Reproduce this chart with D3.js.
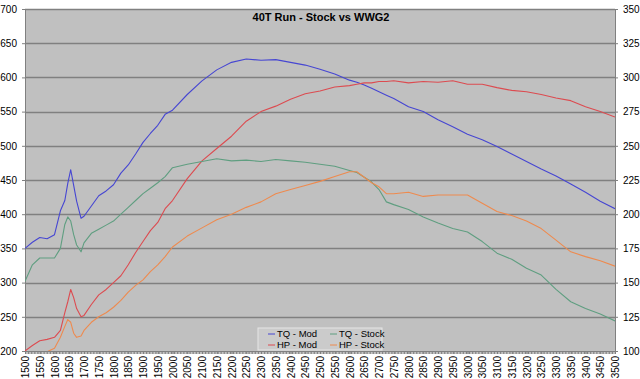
<!DOCTYPE html>
<html>
<head>
<meta charset="utf-8">
<script src="https://cdn.jsdelivr.net/npm/d3@7"></script>
<style>
  body { margin: 0; background: #fff; }
  svg { display: block; font-family: "Liberation Sans", Arial, sans-serif; }
  .axis text { font-size: 10px; fill: #000; }
  .axis line, .axis path { stroke: #808080; }
</style>
</head>
<body>
<div id="chart"></div>
<script>
const title = "40T Run - Stock vs WWG2";

const rpm = [1500, 1525, 1550, 1575, 1600, 1620, 1635, 1645, 1655, 1665, 1675, 1690, 1700,
  1725, 1750, 1775, 1800, 1825, 1850, 1875, 1900, 1925, 1950, 1975, 2000, 2050, 2100,
  2150, 2200, 2250, 2300, 2350, 2400, 2450, 2500, 2550, 2600, 2625, 2650, 2675, 2700,
  2725, 2750, 2800, 2850, 2900, 2950, 3000, 3050, 3100, 3150, 3200, 3250, 3300, 3350,
  3400, 3450, 3500];

// torque, left axis
const tqMod = [350, 359, 366, 364, 370, 405, 420, 445, 465, 442, 419, 394, 397,
  412, 427, 434, 443, 460, 472, 488, 505, 518, 530, 546, 552, 575, 595,
  611, 622, 627, 625, 626, 622, 618, 612, 605, 596, 593, 589, 584, 579,
  574, 569, 557, 550, 538, 528, 517, 509, 499, 488, 477, 466, 456, 444,
  432, 419, 408];

const tqStock = [302, 326, 336, 336, 336, 350, 385, 396, 390, 370, 355, 345, 358,
  372, 378, 384, 390, 400, 410, 420, 430, 438, 446, 455, 468, 473, 477,
  481, 478, 479, 477, 480, 478, 476, 473, 470, 464, 461, 454, 447, 436,
  418, 414, 407, 396, 387, 379, 374, 360, 343, 334, 321, 311, 290, 272,
  262, 254, 244];

// horsepower, right axis
const hpMod = [100, 104, 107.5, 108.5, 110, 115, 128, 136, 145, 139, 131, 125, 126,
  134, 141, 145, 150, 155, 163, 172, 180, 188, 194, 204, 210, 226, 239,
  248, 257, 268, 275, 279, 284, 288, 290, 293, 294, 295, 296, 296, 297,
  297, 297.5, 296, 297, 296.5, 297.5, 295, 295, 292.5, 290.5, 289.5, 287.5, 285, 283,
  278.5, 275, 271];

const hpStock = [92, 95, 97, 99.5, 102, 110, 118, 123, 121, 113, 110, 111, 115,
  121, 125, 128, 132, 137, 143, 148, 152, 158, 163, 169, 176, 184, 190,
  196, 200, 205, 209, 215, 218, 221, 224, 227.5, 231, 231, 227, 223, 220,
  215, 215, 216, 213, 214, 214, 214, 208, 202, 199, 195, 189.5, 181, 172.5,
  169, 166, 162];

const leftTicks = d3.range(200, 701, 50);
const rightTicks = d3.range(100, 351, 25);
const rpmTicks = d3.range(1500, 3501, 50);

const width = 640;
const height = 379;
const margin = { top: 9, right: 25, bottom: 28, left: 25 };

const series = [
  { name: "TQ - Mod", values: tqMod, axis: "left", color: "#4646d2" },
  { name: "HP - Mod", values: hpMod, axis: "right", color: "#dc4b50" },
  { name: "TQ - Stock", values: tqStock, axis: "left", color: "#5f9e80" },
  { name: "HP - Stock", values: hpStock, axis: "right", color: "#ee8a4e" },
];

const x = d3.scaleLinear().domain([1500, 3500]).range([margin.left, width - margin.right]);
const yLeft = d3.scaleLinear().domain([200, 700]).range([height - margin.bottom, margin.top]);
const yRight = d3.scaleLinear().domain([100, 350]).range([height - margin.bottom, margin.top]);

const svg = d3.select("#chart").append("svg")
  .attr("width", width)
  .attr("height", height);

svg.append("defs").append("clipPath").attr("id", "plot-clip")
  .append("rect")
  .attr("x", margin.left)
  .attr("y", margin.top)
  .attr("width", width - margin.left - margin.right)
  .attr("height", height - margin.top - margin.bottom);

// plot background
svg.append("rect")
  .attr("x", margin.left)
  .attr("y", margin.top)
  .attr("width", width - margin.left - margin.right)
  .attr("height", height - margin.top - margin.bottom)
  .attr("fill", "#c0c0c0");

// gridlines
svg.append("g").attr("class", "grid")
  .selectAll("line")
  .data(leftTicks.slice(1))
  .join("line")
  .attr("x1", margin.left)
  .attr("x2", width - margin.right)
  .attr("y1", (d) => Math.round(yLeft(d)) + 0.5)
  .attr("y2", (d) => Math.round(yLeft(d)) + 0.5)
  .attr("stroke", "#808080")
  .attr("stroke-width", 1.3);

// axes
svg.append("g").attr("class", "axis axis--left")
  .attr("transform", `translate(${margin.left},0)`)
  .call(d3.axisLeft(yLeft).tickValues(leftTicks).tickSize(3).tickPadding(5));

svg.append("g").attr("class", "axis axis--right")
  .attr("transform", `translate(${width - margin.right},0)`)
  .call(d3.axisRight(yRight).tickValues(rightTicks).tickSize(3).tickPadding(5));

svg.append("g").attr("class", "axis axis--minor")
  .attr("transform", `translate(0,${height - margin.bottom})`)
  .call(d3.axisBottom(x).tickValues(d3.range(1500, 3501, 5)).tickSize(3).tickFormat(""))
  .call((g) => g.selectAll(".tick line").attr("stroke", "#9a9a9a"));

svg.append("g").attr("class", "axis axis--bottom")
  .attr("transform", `translate(0,${height - margin.bottom})`)
  .call(d3.axisBottom(x).tickValues(rpmTicks).tickSize(3).tickFormat(d3.format("d")))
  .call((g) => g.select(".domain").remove())
  .call((g) => g.selectAll(".tick text")
    .attr("transform", "rotate(-90)")
    .attr("text-anchor", "end")
    .attr("x", -5)
    .attr("y", 0)
    .attr("dy", "0.35em"));

// lines
const gLines = svg.append("g").attr("clip-path", "url(#plot-clip)");

gLines.selectAll("path")
  .data(series)
  .join("path")
  .attr("fill", "none")
  .attr("stroke", (d) => d.color)
  .attr("stroke-width", 1.1)
  .attr("stroke-linejoin", "round")
  .attr("d", (s) => {
    const y = s.axis === "left" ? yLeft : yRight;
    return d3.line()
      .x((d, i) => x(rpm[i]))
      .y((d) => y(d))(s.values);
  });

// title
svg.append("text")
  .attr("x", 321)
  .attr("y", 21)
  .attr("text-anchor", "middle")
  .attr("font-size", 11)
  .attr("font-weight", "bold")
  .text(title);

// legend
const legend = svg.append("g").attr("class", "legend")
  .attr("transform", "translate(258,328)");

legend.append("rect")
  .attr("width", 124)
  .attr("height", 22)
  .attr("fill", "#cbcbcb")
  .attr("stroke", "#e6e6e6");

const legendOrder = [series[0], series[2], series[1], series[3]];

const item = legend.selectAll(".legend-item")
  .data(legendOrder)
  .join("g")
  .attr("class", "legend-item")
  .attr("transform", (d, i) => `translate(${i % 2 ? 72 : 10},${i < 2 ? 6 : 17})`);

item.append("line")
  .attr("x1", 0)
  .attr("x2", 7)
  .attr("stroke", (d) => d.color)
  .attr("stroke-width", 1);

item.append("text")
  .attr("x", 9)
  .attr("dy", "0.35em")
  .attr("font-size", 9.5)
  .text((d) => d.name);
</script>
</body>
</html>
